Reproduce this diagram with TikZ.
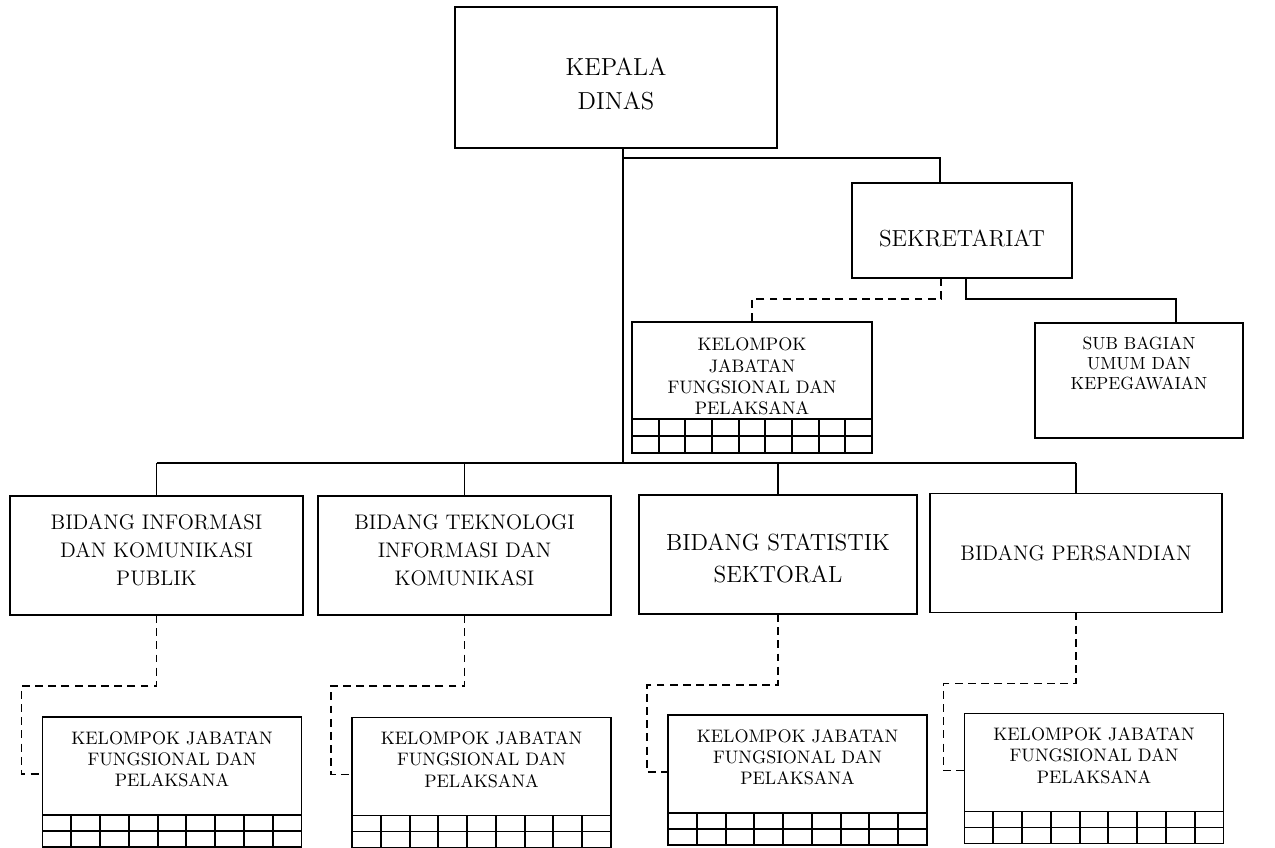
\documentclass[tikz,border=0pt]{standalone}
\usepackage{tikz}
\usetikzlibrary{positioning,calc}
\tikzset{unit box/.style={draw=black, rectangle, line width=1.1pt, align=center, inner sep=2pt, outer sep=0pt}}
\tikzset{group text/.style={unit box, minimum width=5.18cm, minimum height=1.96cm, font=\fontsize{10.3}{12}\selectfont}}
\tikzset{group grid/.style={unit box, minimum width=5.18cm, minimum height=0.64cm}}
\tikzset{field box/.style={unit box, minimum height=2.38cm, font=\fontsize{12}{16}\selectfont}}
\tikzset{link/.style={line width=1.1pt}}
\tikzset{dotted link/.style={line width=1.1pt, dash pattern=on 4.5pt off 3pt}}

\begin{document}
\begin{tikzpicture}
\useasboundingbox (0,0) rectangle (25.5,-16.94);
\node[unit box, minimum width=6.44cm, minimum height=2.82cm, font=\fontsize{14}{19.5}\selectfont] (kepala) at (12.32,-1.55) {\mbox{}\\[-2pt]KEPALA\\DINAS};
\node[unit box, minimum width=4.4cm, minimum height=1.9cm, text height=18pt, text depth=0pt, font=\fontsize{13.2}{16}\selectfont] (sekre) at (19.24,-4.61) {SEKRETARIAT};
\node[group text, minimum width=4.8cm, minimum height=1.94cm] (kjfsek) at (15.04,-7.41) {\mbox{}\\[2pt]KELOMPOK\\JABATAN\\FUNGSIONAL DAN\\PELAKSANA};
\node[group grid, minimum width=4.8cm, minimum height=0.68cm, below=0pt of kjfsek] (kjfsekg) {};
\node[unit box, minimum width=4.16cm, minimum height=2.3cm, font=\fontsize{10}{11.5}\selectfont] (subbag) at (22.78,-7.61) {SUB BAGIAN\\UMUM DAN\\KEPEGAWAIAN\\[8pt]\mbox{}};

\node[field box, minimum width=5.86cm] (bid1) at (3.13,-11.11) {BIDANG INFORMASI\\DAN KOMUNIKASI\\PUBLIK\\[-10pt]\mbox{}};
\node[field box, minimum width=5.86cm] (bid2) at (9.29,-11.11) {BIDANG TEKNOLOGI\\INFORMASI DAN\\KOMUNIKASI\\[-10pt]\mbox{}};
\node[field box, minimum width=5.56cm, font=\fontsize{13.3}{18}\selectfont] (bid3) at (15.56,-11.09) {\mbox{}\\[-4pt]BIDANG STATISTIK\\SEKTORAL};
\node[field box, minimum width=5.84cm] (bid4) at (21.52,-11.06) {BIDANG PERSANDIAN};

\node[group text] (kjf1) at (3.44,-15.32) {KELOMPOK JABATAN\\FUNGSIONAL DAN\\PELAKSANA\\[-4pt]\mbox{}};
\node[group text] (kjf2) at (9.63,-15.33) {KELOMPOK JABATAN\\FUNGSIONAL DAN\\PELAKSANA\\[-4pt]\mbox{}};
\node[group text] (kjf3) at (15.95,-15.28) {KELOMPOK JABATAN\\FUNGSIONAL DAN\\PELAKSANA\\[-4pt]\mbox{}};
\node[group text] (kjf4) at (21.88,-15.25) {KELOMPOK JABATAN\\FUNGSIONAL DAN\\PELAKSANA\\[-4pt]\mbox{}};
\node[group grid, below=0pt of kjf1] (kjf1g) {};
\node[group grid, below=0pt of kjf2] (kjf2g) {};
\node[group grid, below=0pt of kjf3] (kjf3g) {};
\node[group grid, below=0pt of kjf4] (kjf4g) {};

\foreach \g in {kjfsekg,kjf1g,kjf2g,kjf3g,kjf4g} {
  \draw[link] (\g.west) -- (\g.east);
  \foreach \i in {1,...,8}
    \draw[link] ($(\g.north west)!\i/9!(\g.north east)$) -- ($(\g.south west)!\i/9!(\g.south east)$);
}

\coordinate (trunk) at (12.46,-9.26);
\coordinate (sekin) at (18.8,-3.16);
\coordinate (sekdash) at (18.82,-5.98);
\coordinate (sekline) at (19.32,-5.98);
\coordinate (subtop) at (23.52,-5.98);

\draw[link] (kepala.south -| trunk) -- (trunk);
\draw[link] (sekin -| trunk) -- (sekin) -- (sekin |- sekre.north);
\draw[dotted link] (sekdash |- sekre.south) -- (sekdash) -| (kjfsek.north);
\draw[link] (sekline |- sekre.south) -- (sekline) -- (subtop) -- (subtop |- subbag.north);

\draw[link] (bid1.north |- trunk) -- (bid4.north |- trunk);
\foreach \b in {bid1,bid2,bid3,bid4}
  \draw[link] (\b.north |- trunk) -- (\b.north);

\foreach \b/\k in {bid1/kjf1,bid2/kjf2,bid3/kjf3,bid4/kjf4}
  \draw[dotted link] (\b.south) -- ++(0,-1.42) -| ($(\k.west)+(-0.42,-0.16)$) -- ($(\k.west)+(0,-0.16)$);
\end{tikzpicture}
\end{document}
